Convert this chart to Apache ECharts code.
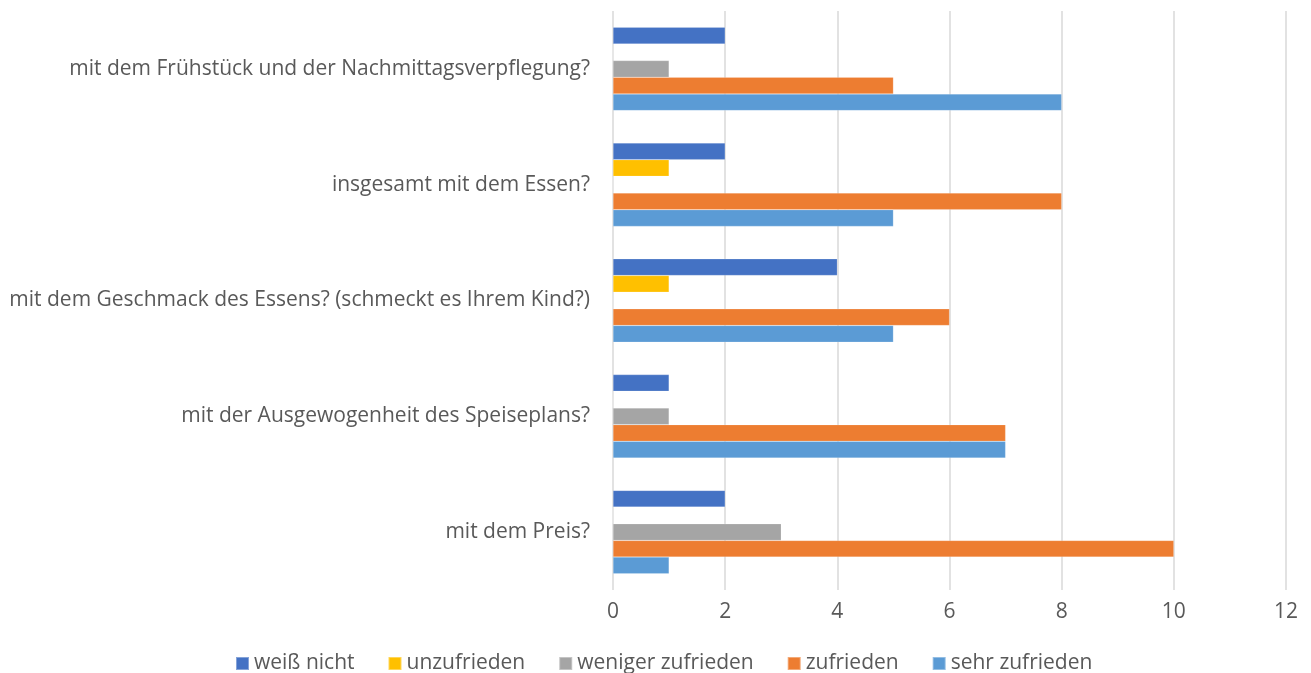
<!DOCTYPE html>
<html>
<head>
<meta charset="utf-8">
<script src="https://cdn.jsdelivr.net/npm/echarts@6/dist/echarts.min.js"></script>
<style>
  html, body { margin: 0; padding: 0; background: #fff; }
  #chart { width: 1311px; height: 673px; }
</style>
</head>
<body>
<div id="chart"></div>
<script>
const categories = [
  'mit dem Frühstück und der Nachmittagsverpflegung?',
  'insgesamt mit dem Essen?',
  'mit dem Geschmack des Essens? (schmeckt es Ihrem Kind?)',
  'mit der Ausgewogenheit des Speiseplans?',
  'mit dem Preis?',
]
const weissNicht = [2, 2, 4, 1, 2]
const unzufrieden = [0, 1, 1, 0, 0]
const wenigerZufrieden = [1, 0, 0, 1, 3]
const zufrieden = [5, 8, 6, 7, 10]
const sehrZufrieden = [8, 5, 5, 7, 1]
const xTicks = [0, 2, 4, 6, 8, 10, 12]

const font = 'Open Sans'
const textColor = '#595959'

const seriesDefs = [
  { name: 'weiß nicht', data: weissNicht, color: '#4472C4' },
  { name: 'unzufrieden', data: unzufrieden, color: '#FFC000' },
  { name: 'weniger zufrieden', data: wenigerZufrieden, color: '#A5A5A5' },
  { name: 'zufrieden', data: zufrieden, color: '#ED7D31' },
  { name: 'sehr zufrieden', data: sehrZufrieden, color: '#5B9BD5' },
]

const chart = echarts.init(document.getElementById('chart'))

chart.setOption({
  animation: false,
  textStyle: { fontFamily: font },
  grid: { left: 613, right: 25, top: 11, bottom: 83 },
  legend: {
    top: 648,
    left: 230,
    itemWidth: 13,
    itemHeight: 13,
    itemGap: 33,
    icon: 'rect',
    textStyle: { color: textColor, fontSize: 21, fontFamily: font },
    data: seriesDefs.map(s => s.name),
  },
  xAxis: {
    type: 'value',
    min: xTicks[0],
    max: xTicks[xTicks.length - 1],
    interval: 2,
    axisLine: { show: false },
    axisTick: { show: false },
    axisLabel: { color: textColor, fontSize: 21, margin: 12 },
    splitLine: { lineStyle: { color: '#d9d9d9', width: 1.5 } },
  },
  yAxis: {
    type: 'category',
    inverse: true,
    data: categories,
    axisLine: { show: false },
    axisTick: { show: false },
    axisLabel: { color: textColor, fontSize: 21, margin: 23 },
  },
  series: seriesDefs.map(s => ({
    name: s.name,
    type: 'bar',
    data: s.data,
    barGap: '0%',
    barCategoryGap: '28%',
    itemStyle: { color: s.color, borderColor: 'rgba(255,255,255,0.35)', borderWidth: 0.5 },
  })),
})
</script>
</body>
</html>
